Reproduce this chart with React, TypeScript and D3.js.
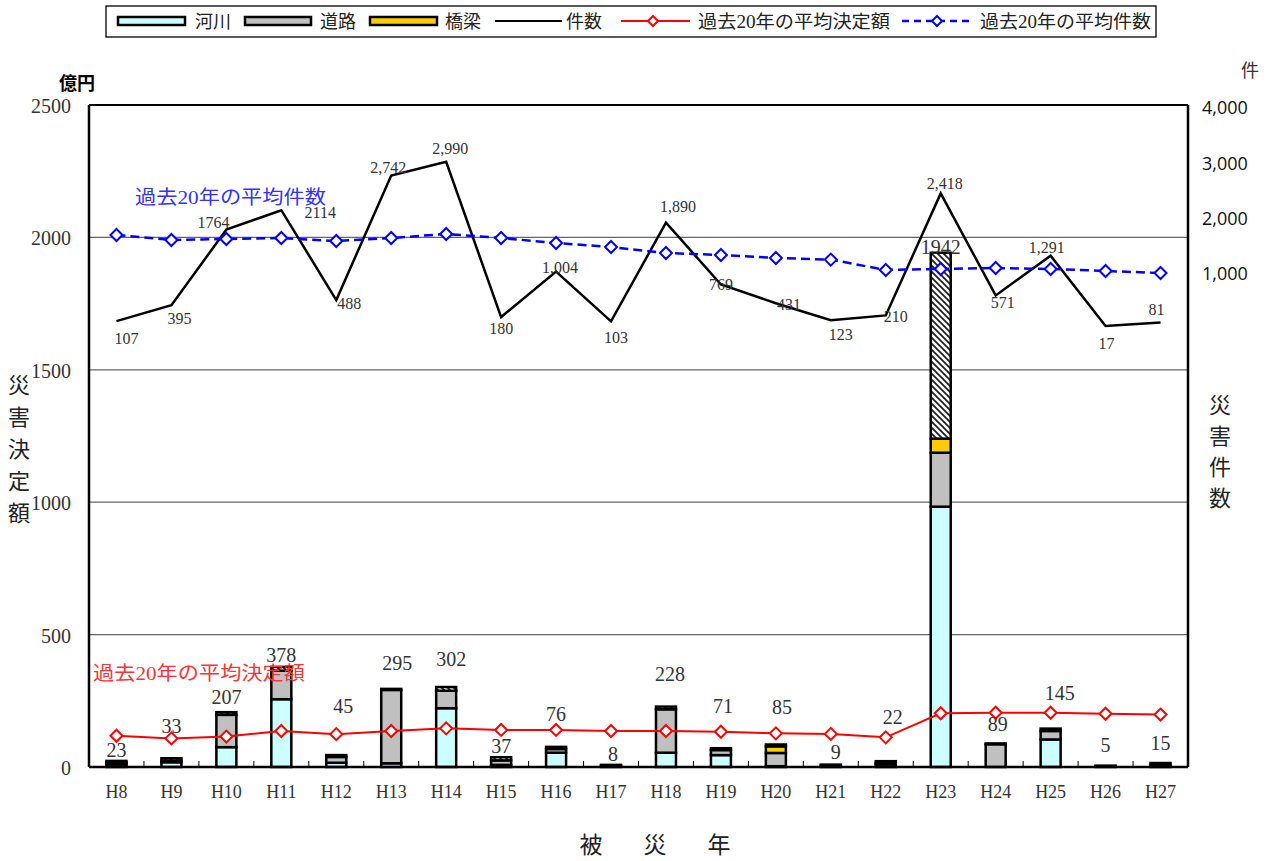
import React from 'react';
import * as d3 from 'd3';

// ---------------- data ----------------
const years = ['H8','H9','H10','H11','H12','H13','H14','H15','H16','H17','H18','H19','H20','H21','H22','H23','H24','H25','H26','H27'];
const riverAmt = [10,18,75,256,16,14,222,8,54,2,54,45,3,2,10,983,0,104,1,3];
const roadAmt = [8,5,122,108,22,277,66,17,14,3,164,19,50,4,4,204,86,32,2,5];
const bridgeAmt = [0,0,0,0,0,0,0,0,0,0,0,0,25,0,0,53,0,0,0,0];
const otherAmt = [5,10,10,14,7,4,14,12,8,3,10,7,7,3,8,702,3,9,2,7];
const totalLabels = ['23','33','207','378','45','295','302','37','76','8','228','71','85','9','22','1942','89','145','5','15'];
const counts = [107,395,1764,2114,488,2742,2990,180,1004,103,1890,769,431,123,210,2418,571,1291,17,81];
const countLabels = ['107','395','1764','2114','488','2,742','2,990','180','1,004','103','1,890','769','431','123','210','2,418','571','1,291','17','81'];
const avgAmount = [118,108,115,136,124,136,146,140,140,136,136,133,127,125,112,203,205,205,201,198];
const avgCount = [1665,1575,1593,1611,1557,1611,1683,1611,1520,1448,1339,1303,1249,1220,1032,1050,1068,1050,1014,977];
const leftTicks = [0,500,1000,1500,2000,2500];
const rightTicks = [1000,2000,3000,4000];
const gridTicks = [500,1000,1500,2000];

// label layout (annotation placement, separate from values)
const amountLabelAt = [64,155,265,423,231,393,408,79,200,49,351,231,227,57,189,1965,163,280,83,91];
const amountLabelDx = [0,0,0,0,7,6,5,0,0,2,4,2,6,5,7,0,2,9,0,0];
const countLabelDx = [10,8,-13,39,13,-3,4,0,4,5,12,0,13,10,10,4,7,-4,1,-4];
const countLabelDy = [17,13,-7,2,3,-8,-13,11,-4,16,-16,0,1,14,1,-10,7,-8,17,-13];

const SERIF = "'Liberation Serif','Noto Sans CJK JP',serif";
const JP = "'Noto Sans CJK JP','Noto Sans',sans-serif";

const L = 89, R = 1188, T = 105, B = 767;

export default function App() {
  const x = d3.scaleBand<string>().domain(years).range([L, R]).paddingInner(0).paddingOuter(0);
  const y = d3.scaleLinear().domain([0, 2500]).range([B, T]);
  const yc = d3.scaleLinear().domain([0, 4000]).range([327, 106]);
  const cx = (i: number) => (x(years[i]) as number) + x.bandwidth() / 2;
  const barW = 20;

  const rows = years.map((yr, i) => ({ yr, river: riverAmt[i], road: roadAmt[i], bridge: bridgeAmt[i], other: otherAmt[i] }));
  const keys = ['river', 'road', 'bridge', 'other'];
  const fills: Record<string, string> = { river: '#CCFFFF', road: '#C0C0C0', bridge: '#FFCC00', other: 'url(#hatch)' };
  const stack = d3.stack<any>().keys(keys)(rows);

  const countLine = d3.line<number>().x((d, i) => cx(i)).y(d => yc(d))(counts) as string;
  const avgCountLine = d3.line<number>().x((d, i) => cx(i)).y(d => yc(d))(avgCount) as string;
  const avgAmtLine = d3.line<number>().x((d, i) => cx(i)).y(d => y(d))(avgAmount) as string;
  const diamond = (s: number) => `M0,${-s}L${s},0L0,${s}L${-s},0Z`;

  const leftTitle = ['災', '害', '決', '定', '額'];
  const rightTitle = ['災', '害', '件', '数'];

  return (
    <svg width={1269} height={861} style={{ display: 'block', position: 'absolute', left: 0, top: 0, background: '#fff' }}>
      <defs>
        <pattern id="hatch" width={6} height={6} patternUnits="userSpaceOnUse">
          <rect width={6} height={6} fill="#fff" />
          <path d="M0,0L6,6M-1,5L1,7M5,-1L7,1" stroke="#222" strokeWidth={1.8} />
        </pattern>
      </defs>
      <rect x={0} y={0} width={1269} height={861} fill="#fff" />

      {/* legend */}
      <g>
        <rect x={106} y={6} width={1050} height={31} fill="#fff" stroke="#000" strokeWidth={1.3} />
        <rect x={118} y={17} width={67} height={8} fill="#CCFFFF" stroke="#000" strokeWidth={2.5} />
        <text x={195} y={28} fontFamily={JP} fontSize={18} fill="#222">河川</text>
        <rect x={245} y={17} width={66} height={8} fill="#C0C0C0" stroke="#000" strokeWidth={2.5} />
        <text x={320} y={28} fontFamily={JP} fontSize={18} fill="#222">道路</text>
        <rect x={370} y={17} width={67} height={8} fill="#FFCC00" stroke="#000" strokeWidth={2.5} />
        <text x={445} y={28} fontFamily={JP} fontSize={18} fill="#222">橋梁</text>
        <line x1={495} x2={562} y1={21} y2={21} stroke="#000" strokeWidth={2} />
        <text x={566} y={28} fontFamily={JP} fontSize={18} fill="#222">件数</text>
        <line x1={621} x2={690} y1={21} y2={21} stroke="#FF0000" strokeWidth={2} />
        <path d={diamond(5)} transform="translate(653,21)" fill="#fff" stroke="#FF0000" strokeWidth={2} />
        <text x={698} y={28} fontFamily={SERIF} fontSize={18} fill="#222" textLength={192} lengthAdjust="spacingAndGlyphs">過去20年の平均決定額</text>
        <line x1={902} x2={972} y1={21} y2={21} stroke="#0000FF" strokeWidth={2.5} strokeDasharray="7,5" />
        <path d={diamond(5)} transform="translate(937,21)" fill="#fff" stroke="#0000FF" strokeWidth={2} />
        <text x={980} y={28} fontFamily={SERIF} fontSize={18} fill="#222" textLength={171} lengthAdjust="spacingAndGlyphs">過去20年の平均件数</text>
      </g>

      {/* grid */}
      {gridTicks.map(t => (
        <line key={t} x1={L} x2={R} y1={y(t)} y2={y(t)} stroke="#666" strokeWidth={1.2} />
      ))}

      {/* bars */}
      {stack.map(layer => (
        <g key={layer.key}>
          {layer.map((d, i) => {
            const h = y(d[0]) - y(d[1]);
            if (d[1] - d[0] <= 0) return null;
            return (
              <rect key={i} x={cx(i) - barW / 2} y={y(d[1])} width={barW} height={h}
                fill={fills[layer.key]} stroke="#000" strokeWidth={2.5} />
            );
          })}
        </g>
      ))}

      {/* axes frame */}
      <line x1={L} x2={R} y1={T} y2={T} stroke="#000" strokeWidth={2} />
      <line x1={L} x2={L} y1={T} y2={B} stroke="#000" strokeWidth={2.5} />
      <line x1={R} x2={R} y1={T} y2={B} stroke="#000" strokeWidth={2.5} />
      <line x1={L} x2={R} y1={B} y2={B} stroke="#000" strokeWidth={2.5} />
      {years.slice(1).map((yr) => (
        <line key={yr} x1={x(yr) as number} x2={x(yr) as number} y1={B} y2={B - 6} stroke="#000" strokeWidth={1} />
      ))}

      {/* count line */}
      <path d={countLine} fill="none" stroke="#000" strokeWidth={2.5} />
      {/* avg count */}
      <path d={avgCountLine} fill="none" stroke="#0000FF" strokeWidth={2.5} strokeDasharray="9,5" />
      {avgCount.map((v, i) => (
        <path key={i} d={diamond(6)} transform={`translate(${cx(i)},${yc(v)})`} fill="#fff" stroke="#0000FF" strokeWidth={2} />
      ))}
      {/* avg amount */}
      <path d={avgAmtLine} fill="none" stroke="#FF0000" strokeWidth={2} />
      {avgAmount.map((v, i) => (
        <path key={i} d={diamond(6)} transform={`translate(${cx(i)},${y(v)})`} fill="#fff" stroke="#FF0000" strokeWidth={2} />
      ))}

      {/* amount labels */}
      {totalLabels.map((t, i) => (
        <text key={i} x={cx(i) + amountLabelDx[i]} y={y(amountLabelAt[i])} dy="0.35em" textAnchor="middle"
          fontFamily={SERIF} fontSize={20} fill="#333">{t}</text>
      ))}
      {/* count labels */}
      {countLabels.map((t, i) => (
        <text key={i} x={cx(i) + countLabelDx[i]} y={yc(counts[i]) + countLabelDy[i]} dy="0.35em" textAnchor="middle"
          fontFamily={SERIF} fontSize={16} fill="#333">{t}</text>
      ))}

      {/* annotations */}
      <text x={135} y={197} dy="0.35em" fontFamily={SERIF} fontSize={19} fill="#3333FF" textLength={191} lengthAdjust="spacingAndGlyphs">過去20年の平均件数</text>
      <text x={93} y={673} dy="0.35em" fontFamily={SERIF} fontSize={19} fill="#FF3333" textLength={212} lengthAdjust="spacingAndGlyphs">過去20年の平均決定額</text>

      {/* left axis */}
      {leftTicks.map(t => (
        <text key={t} x={71} y={y(t) + 1} dy="0.35em" textAnchor="end" fontFamily={SERIF} fontSize={20} fill="#333">{t}</text>
      ))}
      <text x={77} y={84} dy="0.35em" textAnchor="middle" fontFamily={JP} fontWeight="bold" fontSize={18} fill="#000">億円</text>
      {leftTitle.map((c, i) => (
        <text key={i} x={19} y={385 + i * 32} dy="0.35em" textAnchor="middle" fontFamily={JP} fontSize={22} fill="#222">{c}</text>
      ))}

      {/* right axis */}
      {rightTicks.map(t => (
        <text key={t} x={1202} y={yc(t) + 2} dy="0.35em" fontFamily="'Open Sans','Liberation Sans',sans-serif" fontSize={18} fill="#111">{d3.format(',')(t)}</text>
      ))}
      <text x={1250} y={71} dy="0.35em" textAnchor="middle" fontFamily={JP} fontSize={18} fill="#333">件</text>
      {rightTitle.map((c, i) => (
        <text key={i} x={1220} y={405 + i * 31} dy="0.35em" textAnchor="middle" fontFamily={JP} fontSize={22} fill="#222">{c}</text>
      ))}

      {/* x axis labels */}
      {years.map((yr, i) => (
        <text key={yr} x={cx(i)} y={792} dy="0.35em" textAnchor="middle" fontFamily={SERIF} fontSize={18} fill="#333">{yr}</text>
      ))}
      {['被', '災', '年'].map((c, i) => (
        <text key={i} x={591 + i * 64} y={845} dy="0.35em" textAnchor="middle" fontFamily={JP} fontSize={23} fill="#222">{c}</text>
      ))}
    </svg>
  );
}
